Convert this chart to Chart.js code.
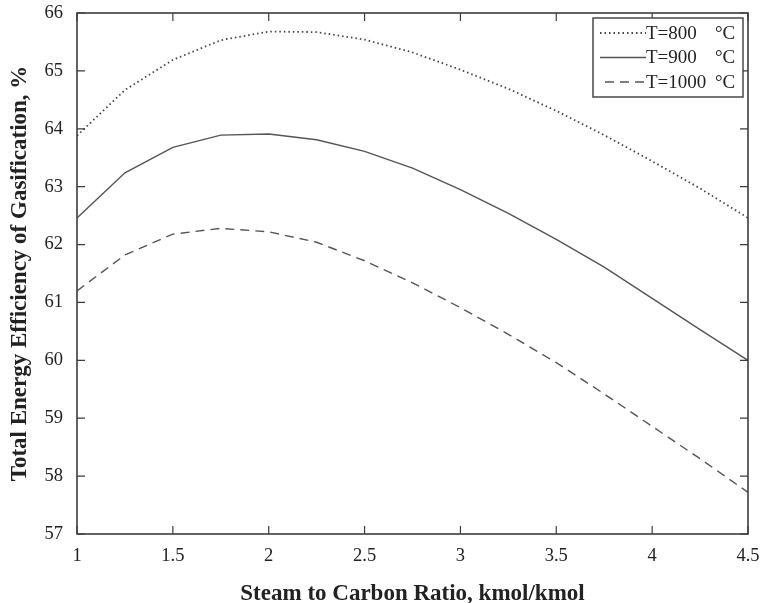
<!DOCTYPE html>
<html>
<head>
<meta charset="utf-8">
<script src="https://cdn.jsdelivr.net/npm/chart.js@4/dist/chart.umd.min.js"></script>
<style>
  html, body { margin: 0; padding: 0; background: #fff; }
  #wrap { width: 764px; height: 603px; }
</style>
</head>
<body>
<div id="wrap"><canvas id="c" width="764" height="603"></canvas></div>
<script>
// Steam-to-carbon ratio (kmol/kmol)
const ratios = [1, 1.25, 1.5, 1.75, 2, 2.25, 2.5, 2.75, 3, 3.25, 3.5, 3.75, 4, 4.25, 4.5];

// Total energy efficiency of gasification (%) at each temperature
const eff800  = [63.88, 64.67, 65.19, 65.53, 65.68, 65.67, 65.54, 65.32, 65.02, 64.69, 64.31, 63.89, 63.44, 62.97, 62.46];
const eff900  = [62.46, 63.24, 63.68, 63.89, 63.91, 63.81, 63.61, 63.32, 62.95, 62.54, 62.09, 61.61, 61.07, 60.53, 60.00];
const eff1000 = [61.20, 61.82, 62.18, 62.28, 62.22, 62.04, 61.72, 61.34, 60.91, 60.45, 59.96, 59.42, 58.86, 58.30, 57.72];

const seriesLabels = ['T=800', 'T=900', 'T=1000'];
const unitLabel = '°C';

const xTicks = [1, 1.5, 2, 2.5, 3, 3.5, 4, 4.5];
const yTicks = [57, 58, 59, 60, 61, 62, 63, 64, 65, 66];

const ink = '#3c3c3c';
const serif = '"Liberation Serif", "DejaVu Serif", serif';

function pts(vals) { return ratios.map((r, i) => ({ x: r, y: vals[i] })); }

// Boxed frame with inward ticks on all four sides, plus the inset legend
const framePlugin = {
  id: 'frame',
  afterDatasetsDraw(chart) {
    const { ctx, chartArea: a, scales } = chart;
    const xs = scales.x, ys = scales.y;
    ctx.save();
    ctx.strokeStyle = ink;
    ctx.lineWidth = 1.6;
    ctx.strokeRect(a.left, a.top, a.right - a.left, a.bottom - a.top);
    ctx.lineWidth = 1.2;
    const tl = 8;
    ctx.beginPath();
    xTicks.forEach(v => {
      const px = xs.getPixelForValue(v);
      ctx.moveTo(px, a.bottom); ctx.lineTo(px, a.bottom - tl);
      ctx.moveTo(px, a.top); ctx.lineTo(px, a.top + tl);
    });
    yTicks.forEach(v => {
      const py = ys.getPixelForValue(v);
      ctx.moveTo(a.left, py); ctx.lineTo(a.left + tl, py);
      ctx.moveTo(a.right, py); ctx.lineTo(a.right - tl, py);
    });
    ctx.stroke();

    // legend box
    const bx = 593, by = 18, bw = 150, bh = 79;
    ctx.fillStyle = '#fff';
    ctx.fillRect(bx, by, bw, bh);
    ctx.lineWidth = 1.4;
    ctx.strokeStyle = ink;
    ctx.strokeRect(bx, by, bw, bh);
    ctx.font = '19px ' + serif;
    ctx.textBaseline = 'middle';
    ctx.fillStyle = '#222';
    chart.data.datasets.forEach((ds, i) => {
      const yy = by + 15 + i * 24.5;
      ctx.beginPath();
      ctx.setLineDash(ds.borderDash || []);
      ctx.lineWidth = ds.borderWidth;
      ctx.strokeStyle = ds.borderColor;
      ctx.moveTo(i === 2 ? 605 : 600, yy); ctx.lineTo(646, yy);
      ctx.stroke();
      ctx.setLineDash([]);
      ctx.textAlign = 'left';
      ctx.fillText(seriesLabels[i], 646, yy + 1);
      ctx.fillText(unitLabel, 715, yy + 1);
    });
    ctx.restore();
  }
};

new Chart(document.getElementById('c'), {
  type: 'scatter',
  data: {
    datasets: [
      { label: seriesLabels[0] + ' ' + unitLabel, data: pts(eff800), showLine: true, pointRadius: 0,
        borderColor: '#444', borderWidth: 1.8, borderDash: [1.5, 3] },
      { label: seriesLabels[1] + ' ' + unitLabel, data: pts(eff900), showLine: true, pointRadius: 0,
        borderColor: '#555', borderWidth: 1.4 },
      { label: seriesLabels[2] + ' ' + unitLabel, data: pts(eff1000), showLine: true, pointRadius: 0,
        borderColor: '#555', borderWidth: 1.4, borderDash: [9, 6] }
    ]
  },
  options: {
    responsive: false,
    animation: false,
    layout: { padding: { top: 13, right: 16, left: 0, bottom: 0 } },
    plugins: { legend: { display: false }, tooltip: { enabled: false } },
    scales: {
      x: {
        type: 'linear', min: 1, max: 4.5,
        afterBuildTicks(s) { s.ticks = xTicks.map(v => ({ value: v })); },
        afterFit(s) { s.height = 69; s.paddingLeft = 0; s.paddingRight = 0; },
        grid: { display: false, drawTicks: false },
        border: { display: false },
        ticks: { color: '#222', padding: 11, font: { family: serif, size: 18.5 },
                 callback: v => String(v) },
        title: { display: true, text: 'Steam to Carbon Ratio, kmol/kmol', color: '#222',
                 font: { family: serif, size: 23, weight: 'bold' }, padding: { top: 2, bottom: -5 } }
      },
      y: {
        type: 'linear', min: 57, max: 66,
        afterBuildTicks(s) { s.ticks = yTicks.map(v => ({ value: v })); },
        afterFit(s) { s.width = 77; s.paddingTop = 0; s.paddingBottom = 0; },
        grid: { display: false, drawTicks: false },
        border: { display: false },
        ticks: { color: '#222', padding: 14, font: { family: serif, size: 18.5 },
                 callback: v => String(v) },
        title: { display: true, text: 'Total Energy Efficiency of Gasification, %', color: '#222',
                 font: { family: serif, size: 23, weight: 'bold' }, padding: { top: 6, bottom: 0 } }
      }
    }
  },
  plugins: [framePlugin]
});
</script>
</body>
</html>
